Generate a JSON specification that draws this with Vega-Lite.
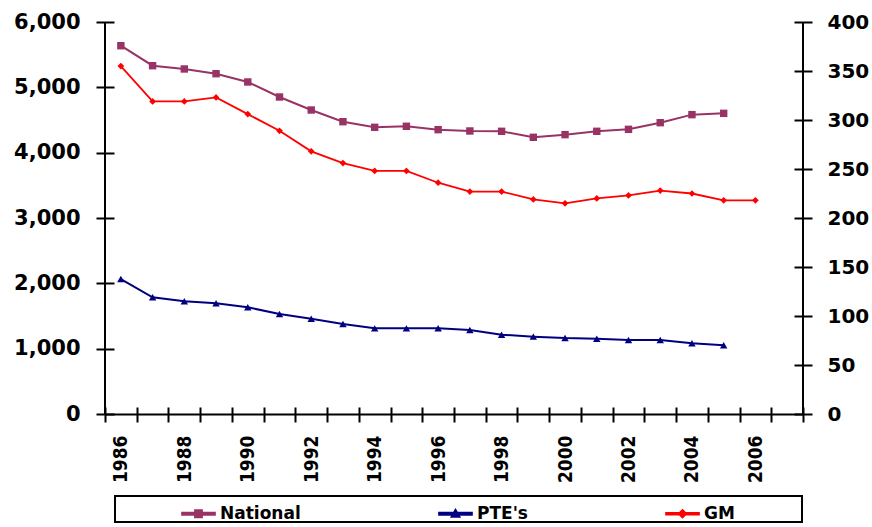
{
  "$schema": "https://vega.github.io/schema/vega-lite/v6.json",
  "width": 698,
  "height": 392,
  "autosize": {"type": "none"},
  "padding": {"left": 105, "top": 22, "right": 69, "bottom": 113},
  "background": "white",
  "config": {"view": {"stroke": null}, "axis": {"grid": false}},
  "data": {
    "values": [
      {"year": 1986, "series": "National", "value": 5637},
      {"year": 1987, "series": "National", "value": 5331},
      {"year": 1988, "series": "National", "value": 5281},
      {"year": 1989, "series": "National", "value": 5209},
      {"year": 1990, "series": "National", "value": 5082},
      {"year": 1991, "series": "National", "value": 4852},
      {"year": 1992, "series": "National", "value": 4653},
      {"year": 1993, "series": "National", "value": 4474},
      {"year": 1994, "series": "National", "value": 4388},
      {"year": 1995, "series": "National", "value": 4404},
      {"year": 1996, "series": "National", "value": 4352},
      {"year": 1997, "series": "National", "value": 4332},
      {"year": 1998, "series": "National", "value": 4327},
      {"year": 1999, "series": "National", "value": 4235},
      {"year": 2000, "series": "National", "value": 4276},
      {"year": 2001, "series": "National", "value": 4327},
      {"year": 2002, "series": "National", "value": 4357},
      {"year": 2003, "series": "National", "value": 4459},
      {"year": 2004, "series": "National", "value": 4582},
      {"year": 2005, "series": "National", "value": 4602},
      {"year": 1986, "series": "PTE's", "value": 2066},
      {"year": 1987, "series": "PTE's", "value": 1786},
      {"year": 1988, "series": "PTE's", "value": 1725},
      {"year": 1989, "series": "PTE's", "value": 1694},
      {"year": 1990, "series": "PTE's", "value": 1633},
      {"year": 1991, "series": "PTE's", "value": 1531},
      {"year": 1992, "series": "PTE's", "value": 1459},
      {"year": 1993, "series": "PTE's", "value": 1378},
      {"year": 1994, "series": "PTE's", "value": 1311},
      {"year": 1995, "series": "PTE's", "value": 1311},
      {"year": 1996, "series": "PTE's", "value": 1313},
      {"year": 1997, "series": "PTE's", "value": 1286},
      {"year": 1998, "series": "PTE's", "value": 1214},
      {"year": 1999, "series": "PTE's", "value": 1184},
      {"year": 2000, "series": "PTE's", "value": 1163},
      {"year": 2001, "series": "PTE's", "value": 1153},
      {"year": 2002, "series": "PTE's", "value": 1133},
      {"year": 2003, "series": "PTE's", "value": 1133},
      {"year": 2004, "series": "PTE's", "value": 1082},
      {"year": 2005, "series": "PTE's", "value": 1051},
      {"year": 1986, "series": "GM", "value": 355},
      {"year": 1987, "series": "GM", "value": 319},
      {"year": 1988, "series": "GM", "value": 319},
      {"year": 1989, "series": "GM", "value": 323},
      {"year": 1990, "series": "GM", "value": 306},
      {"year": 1991, "series": "GM", "value": 289},
      {"year": 1992, "series": "GM", "value": 268},
      {"year": 1993, "series": "GM", "value": 256},
      {"year": 1994, "series": "GM", "value": 248},
      {"year": 1995, "series": "GM", "value": 248},
      {"year": 1996, "series": "GM", "value": 236},
      {"year": 1997, "series": "GM", "value": 227},
      {"year": 1998, "series": "GM", "value": 227},
      {"year": 1999, "series": "GM", "value": 219},
      {"year": 2000, "series": "GM", "value": 215},
      {"year": 2001, "series": "GM", "value": 220},
      {"year": 2002, "series": "GM", "value": 223},
      {"year": 2003, "series": "GM", "value": 228},
      {"year": 2004, "series": "GM", "value": 225},
      {"year": 2005, "series": "GM", "value": 218},
      {"year": 2006, "series": "GM", "value": 218}
    ]
  },
  "layer": [
    {
      "data": {"values": [{"edge": 1985.5}, {"edge": 2007.5}]},
      "mark": {"type": "rule", "color": "black", "strokeWidth": 2},
      "encoding": {
        "x": {
          "field": "edge", "type": "quantitative",
          "scale": {"domain": [1985.5, 2007.5], "nice": false, "zero": false},
          "axis": {
            "orient": "bottom",
            "values": [1985.5, 1986.5, 1987.5, 1988.5, 1989.5, 1990.5, 1991.5, 1992.5, 1993.5, 1994.5, 1995.5, 1996.5, 1997.5, 1998.5, 1999.5, 2000.5, 2001.5, 2002.5, 2003.5, 2004.5, 2005.5, 2006.5, 2007.5],
            "labels": false, "domain": false, "ticks": true, "tickSize": 15, "tickWidth": 2,
            "tickColor": "black", "offset": -7, "title": null, "grid": false
          }
        }
      }
    },
    {
      "transform": [{"filter": "datum.series !== 'GM'"}],
      "encoding": {
        "x": {
          "field": "year", "type": "quantitative",
          "scale": {"domain": [1985.5, 2007.5], "nice": false, "zero": false},
          "axis": {
            "orient": "bottom",
            "values": [1986, 1988, 1990, 1992, 1994, 1996, 1998, 2000, 2002, 2004, 2006],
            "labelExpr": "format(datum.value, 'd')", "labelAngle": -90, "ticks": false, "tickSize": 0, "domain": true,
            "domainColor": "black", "domainWidth": 2, "labelPadding": 21, "labelFlush": false,
            "labelOverlap": false, "labelFont": "DejaVu Sans Condensed", "labelFontWeight": "bold",
            "labelFontSize": 19, "labelColor": "black", "title": null, "grid": false
          }
        },
        "y": {
          "field": "value", "type": "quantitative",
          "scale": {"domain": [0, 6000], "nice": false},
          "axis": {
            "orient": "left", "values": [0, 1000, 2000, 3000, 4000, 5000, 6000],
            "labelExpr": "format(datum.value, ',')",
            "offset": -9, "tickSize": 18, "tickWidth": 2, "tickColor": "black", "domain": false,
            "labelPadding": 16, "labelFlush": false, "labelOverlap": false,
            "labelFont": "DejaVu Sans", "labelFontWeight": "bold", "labelFontSize": 21,
            "labelColor": "black", "title": null, "grid": false
          }
        },
        "color": {
          "field": "series", "type": "nominal",
          "scale": {"domain": ["National", "PTE's", "GM"], "range": ["#993366", "#000080", "#ff0000"]},
          "legend": {
            "orient": "none", "legendX": 10, "legendY": 474, "direction": "horizontal",
            "columns": 3, "gridAlign": "each",
            "title": "\u2800\u2800\u2800\u2800\u2800\u2800",
            "titleOrient": "left", "titleFont": "DejaVu Sans", "titleFontSize": 14, "titlePadding": 0,
            "padding": 0, "strokeColor": "black", "symbolSize": 1100,
            "labelFont": "DejaVu Sans", "labelFontWeight": "bold", "labelFontSize": 17,
            "labelColor": "black", "labelOffset": 4, "columnPadding": 134,
            "labelExpr": "datum.label === 'GM' ? 'GM\u2800\u2800\u2800\u2800\u2800' : datum.label",
            "encode": {
              "symbols": {
                "update": {
                  "shape": {"signal": "datum.value === 'National' ? 'M-1,-0.07H1V0.07H-1Z M-0.22,-0.22H0.22V0.22H-0.22Z' : datum.value === 'GM' ? 'M-1,-0.06H1V0.06H-1Z M0,-0.24L0.24,0L0,0.24L-0.24,0Z' : 'M-1,-0.07H1V0.07H-1Z M0,-0.26L0.26,0.2H-0.26Z'"},
                  "fill": {"signal": "scale('color', datum.value)"},
                  "stroke": {"value": "transparent"},
                  "opacity": {"value": 1},
                  "fillOpacity": {"value": 1}
                }
              },
              "legend": {"update": {"strokeWidth": {"value": 2}}}
            }
          }
        }
      },
      "layer": [
        {"mark": {"type": "line", "strokeWidth": 2}},
        {
          "transform": [{"filter": "datum.series === 'National'"}],
          "mark": {"type": "point", "shape": "square", "filled": true, "opacity": 1, "size": 55}
        },
        {
          "transform": [{"filter": "datum.series !== 'National'"}],
          "mark": {"type": "point", "shape": "triangle-up", "filled": true, "opacity": 1, "size": 55}
        }
      ]
    },
    {
      "transform": [{"filter": "datum.series === 'GM'"}],
      "encoding": {
        "x": {
          "field": "year", "type": "quantitative",
          "scale": {"domain": [1985.5, 2007.5], "nice": false, "zero": false},
          "axis": null
        },
        "y": {
          "field": "value", "type": "quantitative",
          "scale": {"domain": [0, 400], "nice": false},
          "axis": {
            "orient": "right", "values": [0, 50, 100, 150, 200, 250, 300, 350, 400],
            "labelExpr": "format(datum.value, 'd')",
            "offset": -9, "tickSize": 18, "tickWidth": 2, "tickColor": "black", "domain": false,
            "labelPadding": 15, "labelFlush": false, "labelOverlap": false,
            "labelFont": "DejaVu Sans", "labelFontWeight": "bold", "labelFontSize": 20,
            "labelColor": "black", "title": null, "grid": false
          }
        },
        "color": {
          "field": "series", "type": "nominal",
          "scale": {"domain": ["National", "PTE's", "GM"], "range": ["#993366", "#000080", "#ff0000"]}
        }
      },
      "layer": [
        {"mark": {"type": "line", "strokeWidth": 1.8}},
        {"mark": {"type": "point", "shape": "diamond", "filled": true, "opacity": 1, "size": 45}}
      ]
    }
  ],
  "resolve": {"scale": {"y": "independent"}, "axis": {"x": "independent", "y": "independent"}}
}
